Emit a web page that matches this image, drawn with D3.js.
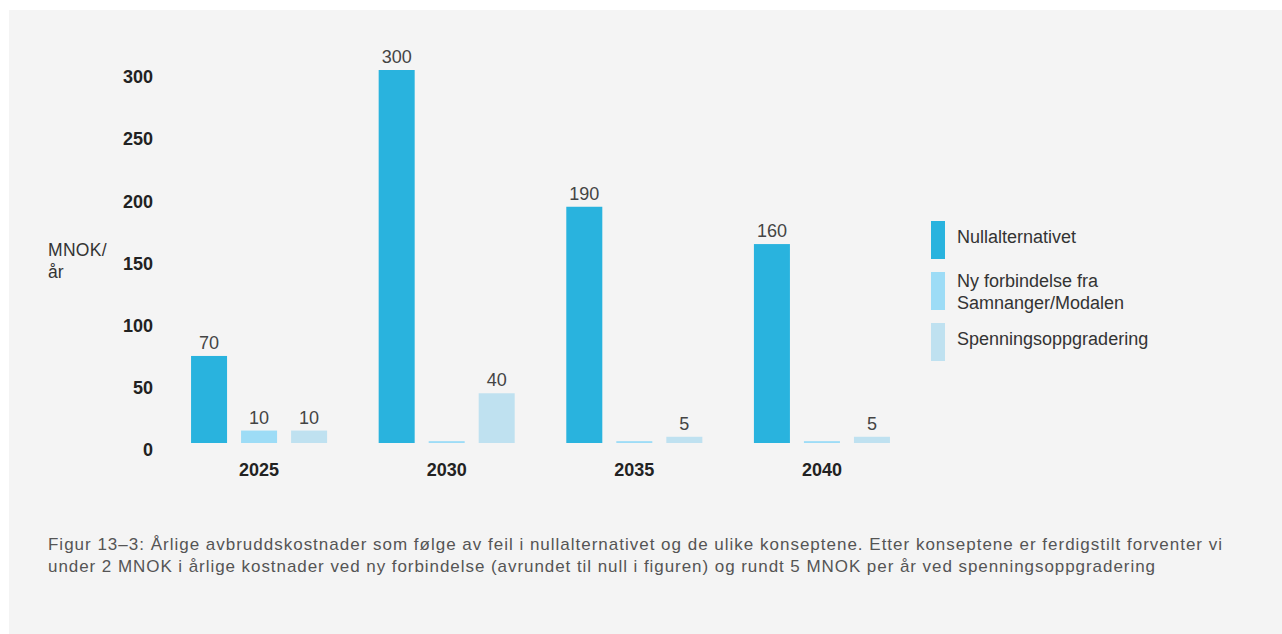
<!DOCTYPE html>
<html>
<head>
<meta charset="utf-8">
<script src="https://cdn.jsdelivr.net/npm/d3@7"></script>
<style>
  html, body { margin: 0; padding: 0; background: #ffffff; }
  svg { display: block; }
  text { font-family: "Liberation Sans", Arial, Helvetica, sans-serif; }
</style>
</head>
<body>
<svg id="chart" width="1282" height="634"></svg>
<script>
// ---- data ----
const years = ["2025", "2030", "2035", "2040"];
const seriesNames = ["Nullalternativet", "Ny forbindelse fra Samnanger/Modalen", "Spenningsoppgradering"];
const nullalternativet = [70, 300, 190, 160];
const nyForbindelse = [10, 1.5, 1.5, 1.5];
const spenning = [10, 40, 5, 5];
const nullLabels = ["70", "300", "190", "160"];
const nyLabels = ["10", "", "", ""];
const spenningLabels = ["10", "40", "5", "5"];
const yTicks = [0, 50, 100, 150, 200, 250, 300];
const legendLines = [["Nullalternativet"], ["Ny forbindelse fra", "Samnanger/Modalen"], ["Spenningsoppgradering"]];
const colors = ["#29b3de", "#9ddcf6", "#bfe1f0"];
const captionLines = [
  "Figur 13–3: Årlige avbruddskostnader som følge av feil i nullalternativet og de ulike konseptene. Etter konseptene er ferdigstilt forventer vi",
  "under 2 MNOK i årlige kostnader ved ny forbindelse (avrundet til null i figuren) og rundt 5 MNOK per år ved spenningsoppgradering"
];
const captionWidths = [1174, 1107];

const seriesValues = [nullalternativet, nyForbindelse, spenning];
const seriesLabels = [nullLabels, nyLabels, spenningLabels];

const svg = d3.select("#chart");

// panel
svg.append("rect").attr("x", 9).attr("y", 10).attr("width", 1273).attr("height", 624).attr("fill", "#f4f4f4");

const y = d3.scaleLinear().domain([0, 300]).range([443, 70]);
const x0 = d3.scaleBand().domain(years).range([165.25, 915.75]).paddingInner(0.275).paddingOuter(0.1375);
const x1 = d3.scaleBand().domain(d3.range(3)).range([0, x0.bandwidth()]).paddingInner(0.28).paddingOuter(0);

// y axis tick labels
const yAxis = d3.axisLeft(y).tickValues(yTicks).tickSize(0).tickPadding(0);
const gy = svg.append("g").attr("transform", "translate(153,7)").call(yAxis);
gy.select(".domain").remove();
gy.selectAll("text")
  .attr("font-size", 18).attr("font-weight", "bold").attr("fill", "#222")
  .style("font-family", "'Liberation Sans', Arial, sans-serif");

// y axis title
svg.append("text").attr("x", 48).attr("y", 256).attr("font-size", 17.5).attr("fill", "#333").attr("letter-spacing", 0.3).text("MNOK/");
svg.append("text").attr("x", 48).attr("y", 278).attr("font-size", 17.5).attr("fill", "#333").text("år");

// x axis labels
const xAxis = d3.axisBottom(x0).tickSize(0).tickPadding(0);
const gx = svg.append("g").attr("transform", "translate(0,463)").call(xAxis);
gx.select(".domain").remove();
gx.selectAll("text")
  .attr("font-size", 18).attr("font-weight", "bold").attr("fill", "#222")
  .style("font-family", "'Liberation Sans', Arial, sans-serif");

// bars
const groups = svg.append("g").selectAll("g").data(years).join("g")
  .attr("transform", d => `translate(${x0(d)},0)`);

groups.each(function(yr, i) {
  const g = d3.select(this);
  for (let s = 0; s < 3; s++) {
    const v = seriesValues[s][i];
    g.append("rect")
      .attr("x", x1(s)).attr("width", x1.bandwidth())
      .attr("y", y(v)).attr("height", y(0) - y(v))
      .attr("fill", colors[s]);
    const lbl = seriesLabels[s][i];
    if (lbl) {
      g.append("text")
        .attr("x", x1(s) + x1.bandwidth() / 2)
        .attr("y", y(v) - 7)
        .attr("text-anchor", "middle")
        .attr("font-size", 18).attr("fill", "#444")
        .text(lbl);
    }
  }
});

// legend
const legendTop = [221, 272, 323];
const lg = svg.append("g");
legendLines.forEach((lines, i) => {
  lg.append("rect").attr("x", 931).attr("y", legendTop[i]).attr("width", 14).attr("height", 38).attr("fill", colors[i]);
  const t = lg.append("text").attr("font-size", 18).attr("fill", "#333");
  const startY = lines.length === 1 ? legendTop[i] + 22 : legendTop[i] + 15;
  lines.forEach((ln, j) => {
    t.append("tspan").attr("x", 957).attr("y", startY + j * 22).text(ln);
  });
});

// caption
captionLines.forEach((ln, i) => {
  svg.append("text").attr("x", 48).attr("y", 550 + i * 22)
    .attr("font-size", 17).attr("fill", "#555")
    .attr("textLength", captionWidths[i]).attr("lengthAdjust", "spacing")
    .text(ln);
});
</script>
</body>
</html>
